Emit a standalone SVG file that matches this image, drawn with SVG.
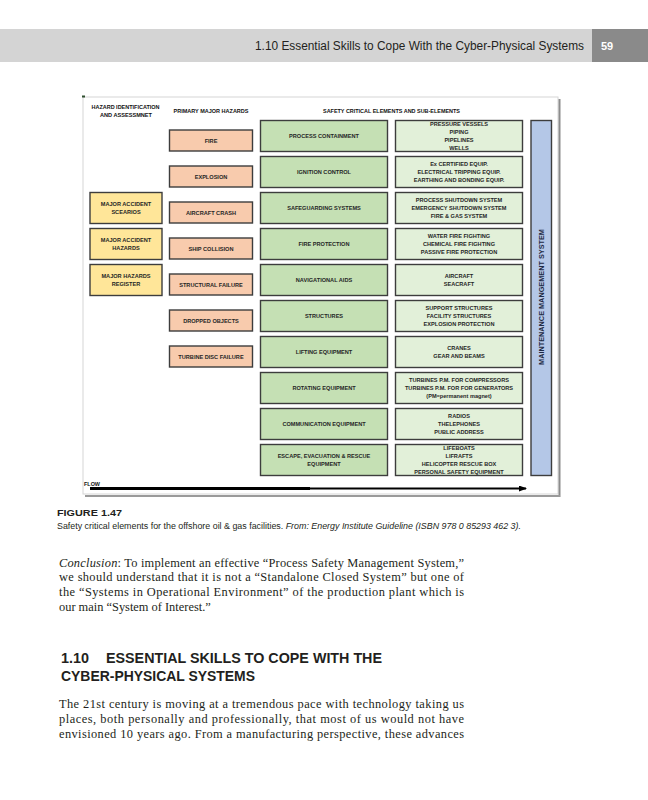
<svg xmlns="http://www.w3.org/2000/svg" width="648" height="800" viewBox="0 0 648 800">
<defs>
<style>
.box{stroke:#3d3d3d;stroke-width:1.4}
.hz{fill:#ffe699}
.ph{fill:#f8cbad}
.sce{fill:#c5e0b4}
.sub{fill:#e2f0d9}
.mms{fill:#b4c7e7}
.t{font-family:"Liberation Sans",Arial,sans-serif;font-weight:bold;font-size:5.6px;fill:#262626;text-anchor:middle}
.hd{font-family:"Liberation Sans",Arial,sans-serif;font-weight:900;font-size:5.8px;fill:#111;text-anchor:middle}
.serif{font-family:"Liberation Serif","Times New Roman",serif;font-size:12.4px;fill:#231f20}
.sans{font-family:"Liberation Sans",Arial,sans-serif;fill:#231f20}
</style>
<marker id="ah" markerWidth="8" markerHeight="6" refX="7" refY="3" orient="auto" markerUnits="userSpaceOnUse">
<polygon points="0,0 8,3 0,6" fill="#000"/>
</marker>
</defs>
<rect width="648" height="800" fill="#fff"/>

<g id="page-header">
<rect x="0" y="29" width="592" height="33" fill="#d4d4d4"/>
<rect x="592" y="29" width="56" height="33" fill="#8a8a8a"/>
<text class="sans" x="584" y="50" font-size="12.5" text-anchor="end" textLength="329" lengthAdjust="spacingAndGlyphs">1.10 Essential Skills to Cope With the Cyber-Physical Systems</text>
<text x="601" y="50" font-family="Liberation Sans,Arial,sans-serif" font-weight="bold" font-size="11" fill="#fff">59</text>
</g>

<g id="figure-frame">
<rect x="83" y="97" width="475" height="397" fill="#fff" stroke="#d6d6d6" stroke-width="1"/>
<line x1="559.5" y1="99" x2="559.5" y2="497" stroke="#8c8c8c" stroke-width="2"/>
<line x1="85" y1="496" x2="560" y2="496" stroke="#9a9a9a" stroke-width="2"/>
<rect x="82" y="95.5" width="3" height="2" fill="#2f4f2f"/>
</g>

<g id="column-headers">
<text class="hd" x="125.5" y="108.5" textLength="68" lengthAdjust="spacingAndGlyphs">HAZARD IDENTIFICATION</text>
<text class="hd" x="126" y="117" textLength="52" lengthAdjust="spacingAndGlyphs">AND ASSESSMNET</text>
<text class="hd" x="211" y="112.5" textLength="75" lengthAdjust="spacingAndGlyphs">PRIMARY MAJOR HAZARDS</text>
<text class="hd" x="391.5" y="112.5" textLength="137" lengthAdjust="spacingAndGlyphs">SAFETY CRITICAL ELEMENTS AND SUB-ELEMENTS</text>
</g>

<g id="hazard-identification">
<g id="major-accident-scenarios"><rect class="box hz" x="90" y="192.5" width="72" height="31"/><text class="t" x="126" y="206">MAJOR ACCIDENT</text><text class="t" x="126" y="214">SCEARIOS</text></g>
<g id="major-accident-hazards"><rect class="box hz" x="90" y="228.5" width="72" height="31"/><text class="t" x="126" y="242">MAJOR ACCIDENT</text><text class="t" x="126" y="250">HAZARDS</text></g>
<g id="major-hazards-register"><rect class="box hz" x="90" y="264.5" width="72" height="31"/><text class="t" x="126" y="278">MAJOR HAZARDS</text><text class="t" x="126" y="286">REGISTER</text></g>
</g>

<g id="primary-hazards">
<g id="fire"><rect class="box ph" x="169.5" y="130" width="83" height="21"/><text class="t" x="211" y="142.5">FIRE</text></g>
<g id="explosion"><rect class="box ph" x="169.5" y="166" width="83" height="21"/><text class="t" x="211" y="178.5">EXPLOSION</text></g>
<g id="aircraft-crash"><rect class="box ph" x="169.5" y="202" width="83" height="21"/><text class="t" x="211" y="214.5">AIRCRAFT CRASH</text></g>
<g id="ship-collision"><rect class="box ph" x="169.5" y="238" width="83" height="21"/><text class="t" x="211" y="250.5">SHIP COLLISION</text></g>
<g id="structural-failure"><rect class="box ph" x="169.5" y="274" width="83" height="21"/><text class="t" x="211" y="286.5">STRUCTURAL FAILURE</text></g>
<g id="dropped-objects"><rect class="box ph" x="169.5" y="310" width="83" height="21"/><text class="t" x="211" y="322.5">DROPPED OBJECTS</text></g>
<g id="turbine-disc-failure"><rect class="box ph" x="169.5" y="346" width="83" height="21"/><text class="t" x="211" y="358.5">TURBINE DISC FAILURE</text></g>
</g>

<g id="safety-critical-elements">
<g id="process-containment"><rect class="box sce" x="260.5" y="120.5" width="127" height="31"/><text class="t" x="324" y="138">PROCESS CONTAINMENT</text></g>
<g id="ignition-control"><rect class="box sce" x="260.5" y="156.5" width="127" height="31"/><text class="t" x="324" y="174">IGNITION CONTROL</text></g>
<g id="safeguarding-systems"><rect class="box sce" x="260.5" y="192.5" width="127" height="31"/><text class="t" x="324" y="210">SAFEGUARDING SYSTEMS</text></g>
<g id="fire-protection"><rect class="box sce" x="260.5" y="228.5" width="127" height="31"/><text class="t" x="324" y="246">FIRE PROTECTION</text></g>
<g id="navigational-aids"><rect class="box sce" x="260.5" y="264.5" width="127" height="31"/><text class="t" x="324" y="282">NAVIGATIONAL AIDS</text></g>
<g id="structures"><rect class="box sce" x="260.5" y="300.5" width="127" height="31"/><text class="t" x="324" y="318">STRUCTURES</text></g>
<g id="lifting-equipment"><rect class="box sce" x="260.5" y="336.5" width="127" height="31"/><text class="t" x="324" y="354">LIFTING EQUIPMENT</text></g>
<g id="rotating-equipment"><rect class="box sce" x="260.5" y="372.5" width="127" height="31"/><text class="t" x="324" y="390">ROTATING EQUIPMENT</text></g>
<g id="communication-equipment"><rect class="box sce" x="260.5" y="408.5" width="127" height="31"/><text class="t" x="324" y="426">COMMUNICATION EQUIPMENT</text></g>
<g id="escape-evacuation-rescue"><rect class="box sce" x="260.5" y="444.5" width="127" height="31"/><text class="t" x="324" y="458">ESCAPE, EVACUATION &amp; RESCUE</text><text class="t" x="324" y="466">EQUIPMENT</text></g>
</g>

<g id="sub-elements">
<g id="sub-process-containment"><rect class="box sub" x="395.5" y="120.5" width="127" height="31"/>
<text class="t" x="459" y="126.3">PRESSURE VESSELS</text><text class="t" x="459" y="134.1">PIPING</text><text class="t" x="459" y="141.9">PIPELINES</text><text class="t" x="459" y="149.7">WELLS</text></g>
<g id="sub-ignition-control"><rect class="box sub" x="395.5" y="156.5" width="127" height="31"/>
<text class="t" x="459" y="166.2">Ex CERTIFIED EQUIP.</text><text class="t" x="459" y="174">ELECTRICAL TRIPPING EQUIP.</text><text class="t" x="459" y="181.8">EARTHING AND BONDING EQUIP.</text></g>
<g id="sub-safeguarding-systems"><rect class="box sub" x="395.5" y="192.5" width="127" height="31"/>
<text class="t" x="459" y="202.2">PROCESS SHUTDOWN SYSTEM</text><text class="t" x="459" y="210">EMERGENCY SHUTDOWN SYSTEM</text><text class="t" x="459" y="217.8">FIRE &amp; GAS SYSTEM</text></g>
<g id="sub-fire-protection"><rect class="box sub" x="395.5" y="228.5" width="127" height="31"/>
<text class="t" x="459" y="238.2">WATER FIRE FIGHTING</text><text class="t" x="459" y="246">CHEMICAL FIRE FIGHTING</text><text class="t" x="459" y="253.8">PASSIVE FIRE PROTECTION</text></g>
<g id="sub-navigational-aids"><rect class="box sub" x="395.5" y="264.5" width="127" height="31"/>
<text class="t" x="459" y="278.1">AIRCRAFT</text><text class="t" x="459" y="285.9">SEACRAFT</text></g>
<g id="sub-structures"><rect class="box sub" x="395.5" y="300.5" width="127" height="31"/>
<text class="t" x="459" y="310.2">SUPPORT STRUCTURES</text><text class="t" x="459" y="318">FACILITY STRUCTURES</text><text class="t" x="459" y="325.8">EXPLOSION PROTECTION</text></g>
<g id="sub-lifting-equipment"><rect class="box sub" x="395.5" y="336.5" width="127" height="31"/>
<text class="t" x="459" y="350.1">CRANES</text><text class="t" x="459" y="357.9">GEAR AND BEAMS</text></g>
<g id="sub-rotating-equipment"><rect class="box sub" x="395.5" y="372.5" width="127" height="31"/>
<text class="t" x="459" y="382.2">TURBINES P.M. FOR COMPRESSORS</text><text class="t" x="459" y="390">TURBINES P.M. FOR FOR GENERATORS</text><text class="t" x="459" y="397.8">(PM=permanent magnet)</text></g>
<g id="sub-communication-equipment"><rect class="box sub" x="395.5" y="408.5" width="127" height="31"/>
<text class="t" x="459" y="418.2">RADIOS</text><text class="t" x="459" y="426">THELEPHONES</text><text class="t" x="459" y="433.8">PUBLIC ADDRESS</text></g>
<g id="sub-escape-evacuation-rescue"><rect class="box sub" x="395.5" y="444.5" width="127" height="31"/>
<text class="t" x="459" y="450.3">LIFEBOATS</text><text class="t" x="459" y="458.1">LIFRAFTS</text><text class="t" x="459" y="465.9">HELICOPTER RESCUE BOX</text><text class="t" x="459" y="473.7">PERSONAL SAFETY EQUIPMENT</text></g>
</g>

<g id="maintenance-management-system">
<rect class="box mms" x="531" y="120.5" width="20.5" height="355"/>
<text transform="translate(543.8,297) rotate(-90)" x="0" y="0" font-family="Liberation Sans,Arial,sans-serif" font-weight="bold" font-size="7.3" fill="#1f2a44" text-anchor="middle">MAINTENANCE MANGEMENT SYSTEM</text>
</g>

<g id="connectors">
<line x1="90" y1="488.5" x2="310" y2="488.5" stroke="#000" stroke-width="3"/>
<line x1="308" y1="488.5" x2="526" y2="488.5" stroke="#000" stroke-width="2.2" marker-end="url(#ah)"/>
</g>
<text class="hd" x="92" y="485.5" text-anchor="start" textLength="16" lengthAdjust="spacingAndGlyphs">FLOW</text>

<g id="caption">
<text class="sans" x="57" y="515.5" font-size="9.5" font-weight="900" textLength="65" lengthAdjust="spacingAndGlyphs">FIGURE 1.47</text>
<text class="sans" x="57" y="528.5" font-size="9.2" textLength="464" lengthAdjust="spacingAndGlyphs">Safety critical elements for the offshore oil &amp; gas facilities. <tspan font-style="italic">From: Energy Institute Guideline (ISBN 978 0 85293 462 3).</tspan></text>
</g>

<g id="conclusion">
<text class="serif" x="59" y="566.5" textLength="405" lengthAdjust="spacing"><tspan font-style="italic">Conclusion</tspan>: To implement an effective “Process Safety Management System,”</text>
<text class="serif" x="59" y="581" textLength="405" lengthAdjust="spacing">we should understand that it is not a “Standalone Closed System” but one of</text>
<text class="serif" x="59" y="596" textLength="405" lengthAdjust="spacing">the “Systems in Operational Environment” of the production plant which is</text>
<text class="serif" x="59" y="611">our main “System of Interest.”</text>
</g>

<g id="section-heading">
<text class="sans" x="61" y="663" font-size="14.5" font-weight="bold" textLength="28" lengthAdjust="spacingAndGlyphs">1.10</text>
<text class="sans" x="106" y="663" font-size="14.5" font-weight="bold" textLength="276" lengthAdjust="spacingAndGlyphs">ESSENTIAL SKILLS TO COPE WITH THE</text>
<text class="sans" x="61" y="681" font-size="14.5" font-weight="bold" textLength="194" lengthAdjust="spacingAndGlyphs">CYBER-PHYSICAL SYSTEMS</text>
</g>

<g id="body-text">
<text class="serif" x="59" y="707.5" textLength="405" lengthAdjust="spacing">The 21st century is moving at a tremendous pace with technology taking us</text>
<text class="serif" x="59" y="722.5" textLength="405" lengthAdjust="spacing">places, both personally and professionally, that most of us would not have</text>
<text class="serif" x="59" y="737.5" textLength="405" lengthAdjust="spacing">envisioned 10 years ago. From a manufacturing perspective, these advances</text>
</g>
</svg>
